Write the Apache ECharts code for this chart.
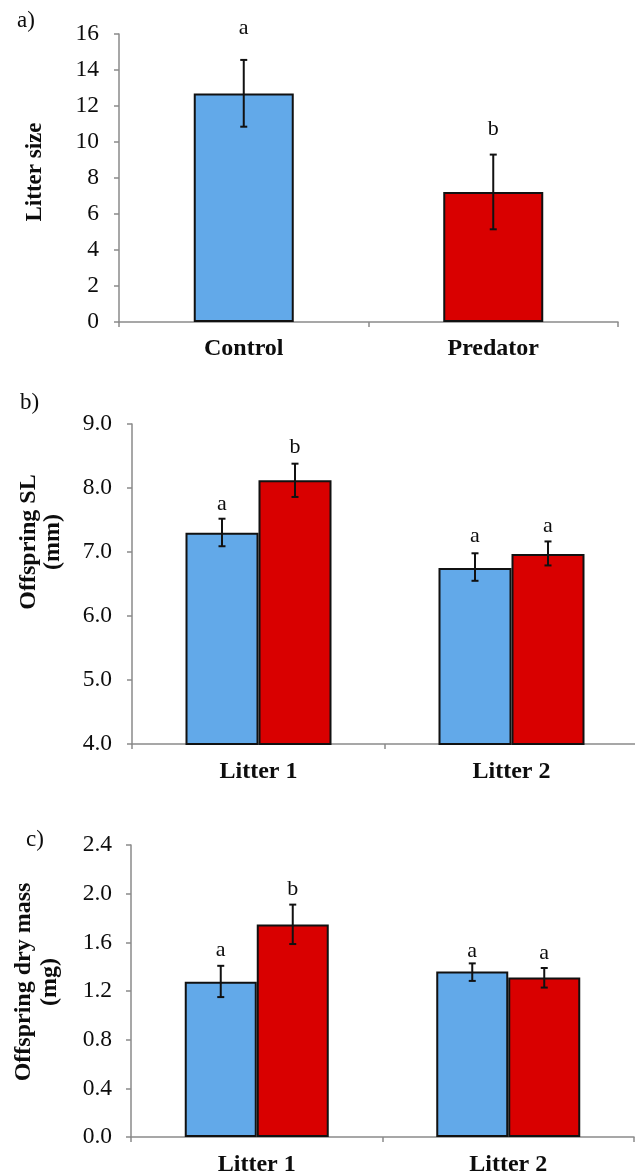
<!DOCTYPE html>
<html>
<head>
<meta charset="utf-8">
<script src="https://cdn.jsdelivr.net/npm/echarts@6/dist/echarts.min.js"></script>
<style>html,body{margin:0;padding:0;background:#fff}#c{width:635px;height:1176px}</style>
</head>
<body>
<div id="c"></div>
<script>
// ---- Panel a data ----
var catsA = ['Control', 'Predator'];
var valsA = [12.7, 7.22];
var lowA = [10.85, 5.15];
var highA = [14.56, 9.30];
var lettersA = ['a', 'b'];
var letterYA = [16.3, 10.7];
var ticksA = [0, 2, 4, 6, 8, 10, 12, 14, 16];

// ---- Panel b data (Offspring SL) ----
var catsB = ['Litter 1', 'Litter 2'];
var ctrlB = [7.30, 6.75];
var predB = [8.12, 6.97];
var ctrlLowB = [7.09, 6.55];
var ctrlHighB = [7.52, 6.98];
var predLowB = [7.86, 6.79];
var predHighB = [8.38, 7.165];
var ctrlLettersB = ['a', 'a'];
var predLettersB = ['b', 'a'];
var ctrlLetterYB = [7.74, 7.24];
var predLetterYB = [8.64, 7.41];
var ticksB = [4.0, 5.0, 6.0, 7.0, 8.0, 9.0];

// ---- Panel c data (Offspring dry mass) ----
var catsC = ['Litter 1', 'Litter 2'];
var ctrlC = [1.277, 1.36];
var predC = [1.746, 1.31];
var ctrlLowC = [1.15, 1.283];
var ctrlHighC = [1.407, 1.427];
var predLowC = [1.586, 1.228];
var predHighC = [1.91, 1.389];
var ctrlLettersC = ['a', 'a'];
var predLettersC = ['b', 'a'];
var ctrlLetterYC = [1.537, 1.53];
var predLetterYC = [2.04, 1.51];
var ticksC = [0.0, 0.4, 0.8, 1.2, 1.6, 2.0, 2.4];

var BLUE = '#62a9e9';
var RED = '#d90000';
var FONT = '"Liberation Serif", "Times New Roman", serif';
var TXT = '#0d0d0d';
var AXIS = '#8a8a8a';

function errData(low, high, ly) {
  return low.map(function (v, i) { return [i, v, high[i], ly[i]]; });
}
function errRender(letters, offset) {
  return function (params, api) {
    var c = api.value(0);
    var lo = api.coord([c, api.value(1)]);
    var hi = api.coord([c, api.value(2)]);
    var ly = api.coord([c, api.value(3)]);
    var x = lo[0] + offset;
    var cap = 3.5;
    var st = { stroke: '#111', lineWidth: 2 };
    return {
      type: 'group',
      children: [
        { type: 'line', shape: { x1: x, y1: lo[1], x2: x, y2: hi[1] }, style: st },
        { type: 'line', shape: { x1: x - cap, y1: lo[1], x2: x + cap, y2: lo[1] }, style: st },
        { type: 'line', shape: { x1: x - cap, y1: hi[1], x2: x + cap, y2: hi[1] }, style: st },
        { type: 'text', style: { text: letters[params.dataIndex], x: x, y: ly[1], align: 'center', verticalAlign: 'middle', font: '22px ' + FONT, fill: TXT } }
      ]
    };
  };
}
function xAx(gi, cats, margin) {
  return {
    type: 'category', gridIndex: gi, data: cats,
    axisLine: { lineStyle: { color: AXIS, width: 1.5 } },
    axisTick: { show: true, length: 5, lineStyle: { color: AXIS, width: 1.5 } },
    axisLabel: { fontFamily: FONT, fontWeight: 'bold', fontSize: 24, color: TXT, margin: margin },
    splitLine: { show: false }
  };
}
function yAx(gi, ticks, dec, margin) {
  return {
    type: 'value', gridIndex: gi, min: ticks[0], max: ticks[ticks.length - 1],
    interval: ticks[1] - ticks[0],
    axisLine: { show: true, lineStyle: { color: AXIS, width: 1.5 } },
    axisTick: { show: true, length: 5, lineStyle: { color: AXIS, width: 1.5 } },
    axisLabel: { fontFamily: FONT, fontSize: 23.5, color: TXT, margin: margin,
      formatter: function (v) { return v.toFixed(dec); } },
    splitLine: { show: false }
  };
}
var barBorder = { borderColor: '#111', borderWidth: 2 };

var chart = echarts.init(document.getElementById('c'), null, { renderer: 'canvas' });
chart.setOption({
  animation: false,
  backgroundColor: '#fff',
  grid: [
    { left: 119, top: 34, width: 499, height: 288, outerBoundsMode: 'none', containLabel: false },
    { left: 132, top: 424, width: 506, height: 320, outerBoundsMode: 'none', containLabel: false },
    { left: 131, top: 845, width: 503, height: 292, outerBoundsMode: 'none', containLabel: false }
  ],
  xAxis: [xAx(0, catsA, 15), xAx(1, catsB, 16), xAx(2, catsC, 16)],
  yAxis: [yAx(0, ticksA, 0, 20), yAx(1, ticksB, 1, 20), yAx(2, ticksC, 1, 19)],
  graphic: [
    { type: 'text', left: 17, top: 9, style: { text: 'a)', font: '23px ' + FONT, fill: TXT } },
    { type: 'text', left: 20, top: 391, style: { text: 'b)', font: '23px ' + FONT, fill: TXT } },
    { type: 'text', left: 26, top: 828, style: { text: 'c)', font: '23px ' + FONT, fill: TXT } },
    { type: 'text', x: 35, y: 172, rotation: Math.PI / 2,
      style: { text: 'Litter size', font: 'bold 23px ' + FONT, fill: TXT, align: 'center', verticalAlign: 'middle' } },
    { type: 'text', x: 41, y: 542, rotation: Math.PI / 2,
      style: { text: 'Offspring SL\n(mm)', font: 'bold 24px ' + FONT, lineHeight: 24, fill: TXT, align: 'center', verticalAlign: 'middle' } },
    { type: 'text', x: 37, y: 982, rotation: Math.PI / 2,
      style: { text: 'Offspring dry mass\n(mg)', font: 'bold 24px ' + FONT, lineHeight: 26, fill: TXT, align: 'center', verticalAlign: 'middle' } }
  ],
  series: [
    // Panel a
    { type: 'bar', xAxisIndex: 0, yAxisIndex: 0, data: valsA, barWidth: 100,
      itemStyle: barBorder,
      colorBy: 'data',
      color: [BLUE, RED] },
    { type: 'custom', xAxisIndex: 0, yAxisIndex: 0, z: 5, renderItem: errRender(lettersA, 0),
      data: errData(lowA, highA, letterYA) },
    // Panel b
    { type: 'bar', xAxisIndex: 1, yAxisIndex: 1, data: ctrlB, barWidth: 73, barGap: '0%',
      itemStyle: Object.assign({ color: BLUE }, barBorder) },
    { type: 'bar', xAxisIndex: 1, yAxisIndex: 1, data: predB, barWidth: 73, barGap: '0%',
      itemStyle: Object.assign({ color: RED }, barBorder) },
    { type: 'custom', xAxisIndex: 1, yAxisIndex: 1, z: 5, renderItem: errRender(ctrlLettersB, -36.5),
      data: errData(ctrlLowB, ctrlHighB, ctrlLetterYB) },
    { type: 'custom', xAxisIndex: 1, yAxisIndex: 1, z: 5, renderItem: errRender(predLettersB, 36.5),
      data: errData(predLowB, predHighB, predLetterYB) },
    // Panel c
    { type: 'bar', xAxisIndex: 2, yAxisIndex: 2, data: ctrlC, barWidth: 72, barGap: '0%',
      itemStyle: Object.assign({ color: BLUE }, barBorder) },
    { type: 'bar', xAxisIndex: 2, yAxisIndex: 2, data: predC, barWidth: 72, barGap: '0%',
      itemStyle: Object.assign({ color: RED }, barBorder) },
    { type: 'custom', xAxisIndex: 2, yAxisIndex: 2, z: 5, renderItem: errRender(ctrlLettersC, -36),
      data: errData(ctrlLowC, ctrlHighC, ctrlLetterYC) },
    { type: 'custom', xAxisIndex: 2, yAxisIndex: 2, z: 5, renderItem: errRender(predLettersC, 36),
      data: errData(predLowC, predHighC, predLetterYC) }
  ]
});
</script>
</body>
</html>
